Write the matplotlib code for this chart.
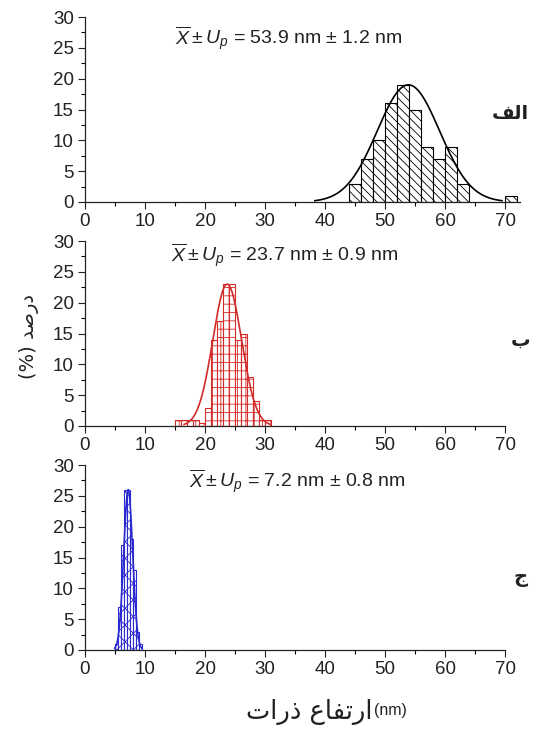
import numpy as np
import matplotlib
matplotlib.use("Agg")
import matplotlib.pyplot as plt
from matplotlib.ticker import MultipleLocator

plt.rcParams['font.family'] = ['Liberation Sans', 'DejaVu Sans']
plt.rcParams['mathtext.fontset'] = 'custom'
plt.rcParams['mathtext.rm'] = 'Liberation Sans'
plt.rcParams['mathtext.it'] = 'Liberation Sans:italic'
plt.rcParams['hatch.linewidth'] = 0.6

# ---- data ----
# panel A (black)
a_edges = [44, 46, 48, 50, 52, 54, 56, 58, 60, 62, 70]
a_heights = [3, 7, 10, 16, 19, 15, 9, 7, 9, 3, 1]
a_width = 2
a_fit = (19.0, 53.9, 5.2)   # amplitude, mean, sigma
a_text = r'$\overline{X} \pm U_p$ = 53.9 nm ± 1.2 nm'

# panel B (red)
b_edges = [15, 16, 17, 18, 19, 20, 21, 22, 23, 24, 25, 26, 27, 28, 29, 30]
b_heights = [1, 1, 1, 1, 0.5, 3, 14, 17, 23, 23, 14, 15, 8, 4, 1, 1]
b_width = 1
b_fit = (23.0, 23.7, 2.4)
b_text = r'$\overline{X} \pm U_p$ = 23.7 nm ± 0.9 nm'

# panel C (blue)
c_edges = [5.0, 5.5, 6.0, 6.5, 7.0, 7.5, 8.0, 8.5, 9.0]
c_heights = [1, 7, 17, 26, 26, 18, 13, 3, 1]
c_width = 0.5
c_fit = (26.0, 7.2, 0.75)
c_text = r'$\overline{X} \pm U_p$ = 7.2 nm ± 0.8 nm'

xticks = [0, 10, 20, 30, 40, 50, 60, 70]
yticks = [0, 5, 10, 15, 20, 25, 30]

# Persian labels in visual order (presentation forms)
lab_a = '\uFED2\uFEDF\uFE8D'          # الف
lab_b = '\uFE8F'                      # ب
lab_c = '\uFE9D'                      # ج
ylab = '(%) \uFEAA\uFEBB\uFEAD\uFEA9'  # درصد (%)
xlab_fa = '\uFE95\uFE8D\uFEAD\uFEAB \uFEC9\uFE8E\uFED4\uFE97\uFEAD\uFE8D'  # ارتفاع ذرات
xlab_unit = '(nm)'

fig = plt.figure(figsize=(5.34, 7.31), dpi=100)
W, H = 534, 731

def add_ax(top_px, right_px):
    left = 85
    bottom = top_px + 185
    return fig.add_axes([left / W, (H - bottom) / H, (right_px - left) / W, 185 / H])

panels = [
    (add_ax(17, 520), a_edges, a_heights, a_width, a_fit, a_text, 'black', '\\\\\\\\', 72.5, (34, 26.4), lab_a, (0.955, 0.845)),
    (add_ax(241, 505), b_edges, b_heights, b_width, b_fit, b_text, '#d42a2a', '++', 70, (33.3, 27.6), lab_b, (0.975, 0.535)),
    (add_ax(465, 505), c_edges, c_heights, c_width, c_fit, c_text, '#2a2ad0', 'xx', 70, (35.3, 27.2), lab_c, (0.975, 0.21)),
]

for ax, edges, heights, w, fit, txt, col, hatch, xmax, tpos, lab, lpos in panels:
    ax.bar(edges, heights, width=w, align='edge', facecolor='white',
           edgecolor=col, hatch=hatch, linewidth=0.8)
    amp, mu, sig = fit
    xs = np.linspace(mu - 3 * sig, mu + 3 * sig, 300)
    ax.plot(xs, amp * np.exp(-(xs - mu) ** 2 / (2 * sig ** 2)), color=col, lw=1.2)
    ax.set_xlim(0, xmax)
    ax.set_ylim(0, 30)
    ax.set_xticks(xticks)
    ax.set_yticks(yticks)
    ax.xaxis.set_minor_locator(MultipleLocator(5))
    ax.yaxis.set_minor_locator(MultipleLocator(2.5))
    ax.tick_params(which='major', direction='out', length=5, width=0.8, labelsize=13.5,
                   colors='#222222', pad=3)
    ax.tick_params(which='minor', direction='out', length=3, width=0.8)
    ax.spines['top'].set_visible(False)
    ax.spines['right'].set_visible(False)
    for s in ('left', 'bottom'):
        ax.spines[s].set_linewidth(0.9)
        ax.spines[s].set_color('#222222')
    ax.text(tpos[0], tpos[1], txt, ha='center', va='center', fontsize=14, color='#222222')
    fig.text(lpos[0], lpos[1], lab, ha='center', va='center', fontsize=14,
             family=['DejaVu Sans'], fontweight='bold', color='#222222')

fig.text(0.055, 0.539, ylab, rotation=90, ha='center', va='center', fontsize=14,
         family=['DejaVu Sans'], color='#222222')
fig.text(372 / W, 0.026, xlab_fa, ha='right', va='center', fontsize=18.5,
         family=['DejaVu Sans'], color='#222222')
fig.text(374 / W, 0.028, xlab_unit, ha='left', va='center', fontsize=11.5,
         color='#222222')

fig.savefig('out.png', dpi=100)
